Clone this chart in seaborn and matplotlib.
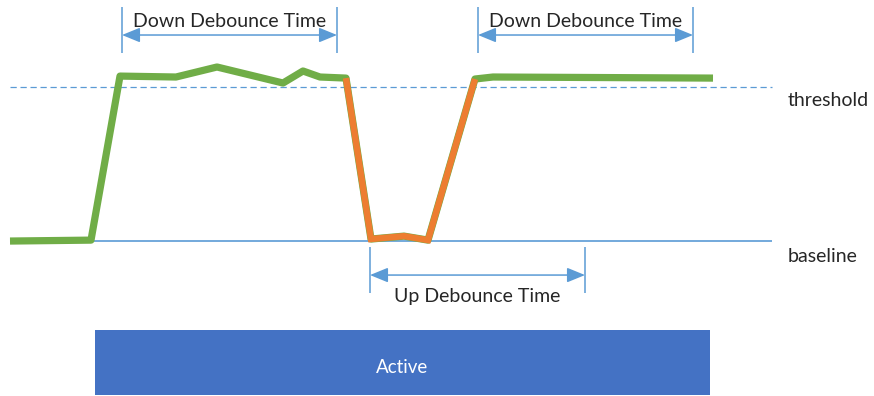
import numpy as np
import pandas as pd
import matplotlib
matplotlib.use("Agg")
import matplotlib.pyplot as plt
import seaborn as sns

# signal samples (time, level) ; baseline = 0, threshold = 1
sig_t = [10, 91, 120, 176, 217, 283, 303, 320, 346, 371, 404, 428, 475, 493, 713]
sig_level = [0.0, 0.006, 1.071, 1.065, 1.13, 1.026, 1.104, 1.065, 1.058,
             0.013, 0.032, 0.006, 1.052, 1.065, 1.058]
# the touched part (orange)
touch_t = [346, 371, 404, 428, 475]
touch_level = [1.058, 0.013, 0.032, 0.006, 1.052]

threshold = 1.0
baseline = 0.0
line_span = (10, 772)

# debounce windows: (start, end, label)
down_windows = [(122, 337, "Down Debounce Time"), (478, 693, "Down Debounce Time")]
up_window = (370, 585, "Up Debounce Time")
active_span = (95, 710)

GREEN = "#70AD47"
ORANGE = "#ED7D31"
LBLUE = "#5B9BD5"
DBLUE = "#4472C4"

sns.set_style("white")
plt.rcParams['font.family'] = ['Lato', 'DejaVu Sans']

fig = plt.figure(figsize=(8.74, 3.96), dpi=100)
ax = fig.add_axes([0, 0, 1, 1])
ax.set_xlim(0, 874)
ax.set_ylim(-1.006, 1.565)
ax.axis("off")

# threshold & baseline
ax.hlines(threshold, *line_span, colors=LBLUE, linestyles=(0, (5, 3)), lw=0.9)
ax.hlines(baseline, *line_span, colors=LBLUE, lw=1.2)
ax.text(788, threshold - 0.09, "threshold", fontsize=14, va="center", ha="left")
ax.text(788, baseline - 0.1, "baseline", fontsize=14, va="center", ha="left")

df = pd.DataFrame({"t": sig_t, "level": sig_level})
sns.lineplot(data=df, x="t", y="level", ax=ax, color=GREEN, lw=5.2,
             sort=False, estimator=None, solid_capstyle="butt")
df2 = pd.DataFrame({"t": touch_t, "level": touch_level})
sns.lineplot(data=df2, x="t", y="level", ax=ax, color=ORANGE, lw=4.6,
             sort=False, estimator=None, solid_joinstyle="miter", solid_capstyle="butt")
ax.axis("off")


def dim_arrow(x0, x1, y_top, y_bot, y_arr, label, y_txt):
    ax.vlines([x0, x1], y_bot, y_top, colors=LBLUE, lw=1.1)
    ax.annotate("", xy=(x1, y_arr), xytext=(x0, y_arr),
                arrowprops=dict(arrowstyle="<|-|>,head_length=1.1,head_width=0.45",
                                color=LBLUE, lw=1.1, shrinkA=0, shrinkB=0))
    ax.text((x0 + x1) / 2, y_txt, label, fontsize=14, ha="center", va="center")


def py(p):
    # level for a given vertical pixel position
    return (241 - p) / 154


for x0, x1, lab in down_windows:
    dim_arrow(x0, x1, py(7), py(53), py(35), lab, py(21))
dim_arrow(up_window[0], up_window[1], py(247), py(293), py(275), up_window[2], py(296))

# active bar
ax.add_patch(plt.Rectangle((active_span[0], py(395)), active_span[1] - active_span[0],
                           py(330) - py(395), color=DBLUE, lw=0))
ax.text(sum(active_span) / 2, py(367), "Active", color="white", fontsize=13.5,
        ha="center", va="center")

fig.savefig("out.png", dpi=100)
